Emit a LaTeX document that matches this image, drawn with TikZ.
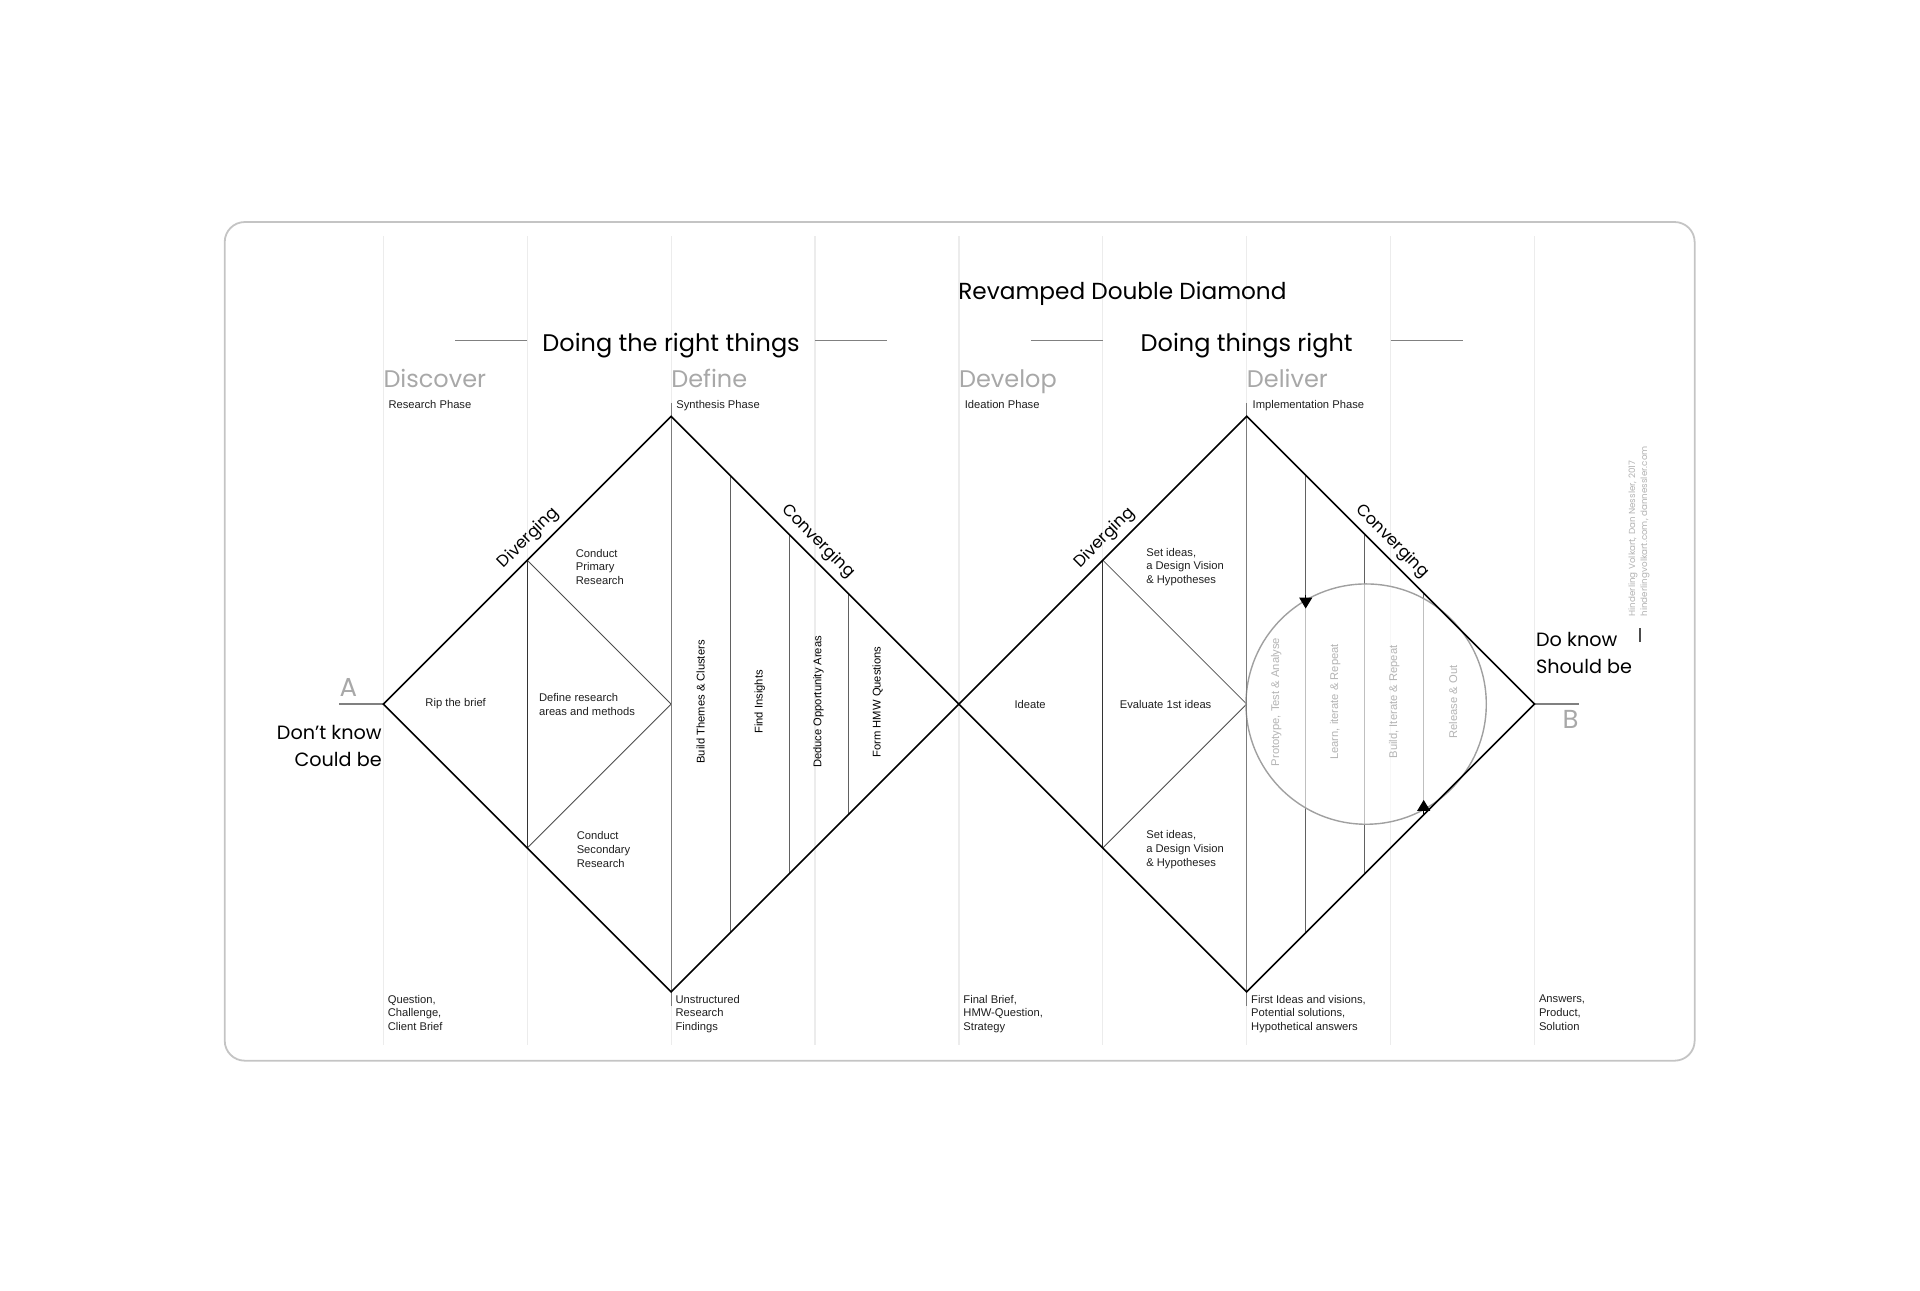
\documentclass[tikz,border=0pt]{standalone}
\usepackage{fontspec}
\setmainfont{Liberation Sans}
\newfontfamily\headfont{Poppins}
\usetikzlibrary{arrows.meta,positioning,calc}

\definecolor{colline}{HTML}{ECECEC}
\definecolor{cardline}{HTML}{C4C4C4}
\definecolor{phasegrey}{HTML}{A8A8A8}
\definecolor{rulegrey}{HTML}{808080}
\definecolor{midgrey}{HTML}{7C7C7C}
\definecolor{loopgrey}{HTML}{A0A0A0}
\definecolor{loopfont}{HTML}{B4B4B4}
\definecolor{creditgrey}{HTML}{B2B2B2}

\tikzset{
  note/.style={font=\fontsize{11.2}{13.8}\selectfont, inner sep=0pt, align=left, text=black!88},
  subphase/.style={note, anchor=base west},
  phase/.style={font=\headfont\fontsize{24}{28}\selectfont, text=phasegrey, inner sep=0pt, anchor=base west},
  head/.style={font=\headfont\fontsize{24}{28}\selectfont, inner sep=0pt},
  knowlabel/.style={font=\headfont\fontsize{19.2}{27}\selectfont, inner sep=0pt},
  edgelabel/.style={font=\headfont\fontsize{16.4}{18}\selectfont, inner sep=0pt, anchor=center},
  striplabel/.style={font=\fontsize{11.2}{13}\selectfont, rotate=90, inner sep=0pt},
  looplabel/.style={striplabel, text=loopfont},
  colrule/.style={draw=colline, line width=1.2pt},
  outline/.style={line width=1.6pt, line join=miter},
  innerline/.style={draw=black!80, line width=1.1pt},
  thinline/.style={draw=black!70, line width=0.8pt},
  stripline/.style={draw=black!62, line width=1.1pt},
  centreline/.style={draw=midgrey, line width=1.2pt},
  tip/.style={-{Triangle[width=13pt,length=11pt]}, line width=1pt},
}

\begin{document}
\begin{tikzpicture}[x=143.9pt, y=143.9pt]
\useasboundingbox (-2.6637,-4.0716) rectangle (10.679,4.893);

% card
\draw[draw=cardline, line width=1.8pt, rounded corners=20pt] (-1.102,-2.478) rectangle (9.113,3.350);

% column grid
\foreach \k in {0,...,8}
  \draw[colrule] (\k,3.252) -- (\k,-2.369);

% corner points of the two diamonds
\coordinate (A) at (0,0);
\coordinate (topL) at (2,2);
\coordinate (botL) at (2,-2);
\coordinate (mid) at (4,0);
\coordinate (topR) at (6,2);
\coordinate (botR) at (6,-2);
\coordinate (B) at (8,0);

% titles
\node[head, font=\headfont\fontsize{23.2}{28}\selectfont, anchor=base west] (title) at (3.995,2.813) {Revamped Double Diamond};
\node[head, anchor=base] (rightthings) at (2,2.449) {Doing the right things};
\node[head, anchor=base] (thingsright) at (6,2.449) {Doing things right};
\foreach \a/\b in {0.5/1.0, 3.0/3.5, 4.5/5.0, 7.0/7.5}
  \draw[draw=rulegrey, line width=1.5pt] (\a,2.528) -- (\b,2.528);

% phases
\node[phase] (discover) at (0,2.199) {Discover};
\node[phase] (define) at (2,2.199) {Define};
\node[phase] (develop) at (4,2.199) {Develop};
\node[phase] (deliver) at (6,2.199) {Deliver};
\node[subphase] (research) at (0.035,2.056) {Research Phase};
\node[subphase] (synthesis) at (2.035,2.056) {Synthesis Phase};
\node[subphase] (ideation) at (4.04,2.056) {Ideation Phase};
\node[subphase] (implement) at (6.04,2.056) {Implementation Phase};

% outputs
\node[note, anchor=north west] (outA) at (0.03,-2.02) {Question,\\Challenge,\\Client Brief};
\node[note, anchor=north west] (outB) at (2.03,-2.02) {Unstructured\\Research\\Findings};
\node[note, anchor=north west] (outC) at (4.03,-2.02) {Final Brief,\\HMW-Question,\\Strategy};
\node[note, anchor=north west] (outD) at (6.03,-2.02) {First Ideas and visions,\\Potential solutions,\\Hypothetical answers};
\node[note, anchor=north west] (outE) at (8.03,-2.02) {Answers,\\Product,\\Solution};

% start and end
\draw[draw=rulegrey, line width=2pt] (-0.307,0) -- (A);
\draw[draw=rulegrey, line width=2pt] (B) -- (8.307,0);
\node[font=\headfont\fontsize{26}{30}\selectfont, text=phasegrey, inner sep=0pt, anchor=base] (labA) at (-0.242,0.056) {A};
\node[font=\headfont\fontsize{26}{30}\selectfont, text=phasegrey, inner sep=0pt, anchor=base] (labB) at (8.25,-0.173) {B};
\node[knowlabel, align=right, anchor=north east] (dontknow) at (-0.01,-0.145) {Don’t know\\Could be};
\node[knowlabel, align=left, anchor=north west] (doknow) at (8.01,0.5) {Do know\\Should be};
\draw[draw=black!70, line width=1.2pt] (8.733,0.43) -- (8.733,0.527);
\node[font=\headfont\fontsize{8.8}{12}\selectfont, text=creditgrey, rotate=90, inner sep=0pt, align=left, anchor=north west] (credit) at (8.652,0.607) {Hinderling Volkart, Dan Nessler, 2017\\hinderlingvolkart.com, dannessler.com};

% inside the first diamond
\draw[innerline] (1,1) -- (1,-1);
\draw[thinline] (1,1) -- (2,0) -- (1,-1);
\foreach \sx in {2.41,2.82,3.23}
  \draw[stripline] (\sx,{4-\sx}) -- (\sx,{\sx-4});

% inside the second diamond
\draw[innerline] (5,1) -- (5,-1);
\draw[thinline] (5,1) -- (6,0) -- (5,-1);
\foreach \sx in {6.41,6.82,7.23}
  \draw[stripline] (\sx,{8-\sx}) -- (\sx,{\sx-8});

% iteration loop
\draw[draw=loopgrey, line width=1.4pt, fill=white, fill opacity=0.6] (6.83,0) circle (0.835);
\draw[tip] (6.41,0.76) -- (6.41,0.664);
\draw[tip] (7.23,-0.77) -- (7.23,-0.666);

% centre lines and outlines
\draw[centreline] (2,2.09) -- (2,-2.10);
\draw[centreline] (6,2.09) -- (6,-2.10);
\draw[outline] (A) -- (topL) -- (mid) -- (botL) -- cycle;
\draw[outline] (mid) -- (topR) -- (B) -- (botR) -- cycle;

\node[edgelabel, rotate=45] (divL) at (1.01,1.155) {Diverging};
\node[edgelabel, rotate=-45] (conL) at (3.02,1.13) {Converging};
\node[edgelabel, rotate=45] (divR) at (5.013,1.155) {Diverging};
\node[edgelabel, rotate=-45] (conR) at (7.01,1.13) {Converging};

% labels, first diamond
\node[note, anchor=center] (rip) at (0.503,0) {Rip the brief};
\node[note, anchor=west] (areas) at (1.081,0) {Define research\\areas and methods};
\node[note, anchor=west] (primary) at (1.337,0.953) {Conduct\\Primary\\Research};
\node[note, anchor=west] (secondary) at (1.343,-1.012) {Conduct\\Secondary\\Research};
\node[striplabel] (themes) at (2.205,0.015) {Build Themes \& Clusters};
\node[striplabel] (insights) at (2.615,0.015) {Find Insights};
\node[striplabel] (deduce) at (3.025,0.015) {Deduce Opportunity Areas};
\node[striplabel] (hmw) at (3.435,0.015) {Form HMW Questions};

% labels, second diamond
\node[note, anchor=center] (ideate) at (4.495,0) {Ideate};
\node[note, anchor=west] (evaluate) at (5.117,0) {Evaluate 1st ideas};
\node[note, anchor=west] (visiontop) at (5.301,0.953) {Set ideas,\\a Design Vision\\\& Hypotheses};
\node[note, anchor=west] (visionbot) at (5.301,-1.012) {Set ideas,\\a Design Vision\\\& Hypotheses};
\node[looplabel] (proto) at (6.205,0.015) {Prototype, Test \& Analyse};
\node[looplabel] (learn) at (6.615,0.015) {Learn, iterate \& Repeat};
\node[looplabel] (build) at (7.025,0.015) {Build, Iterate \& Repeat};
\node[looplabel] (release) at (7.435,0.015) {Release \& Out};
\end{tikzpicture}
\end{document}
